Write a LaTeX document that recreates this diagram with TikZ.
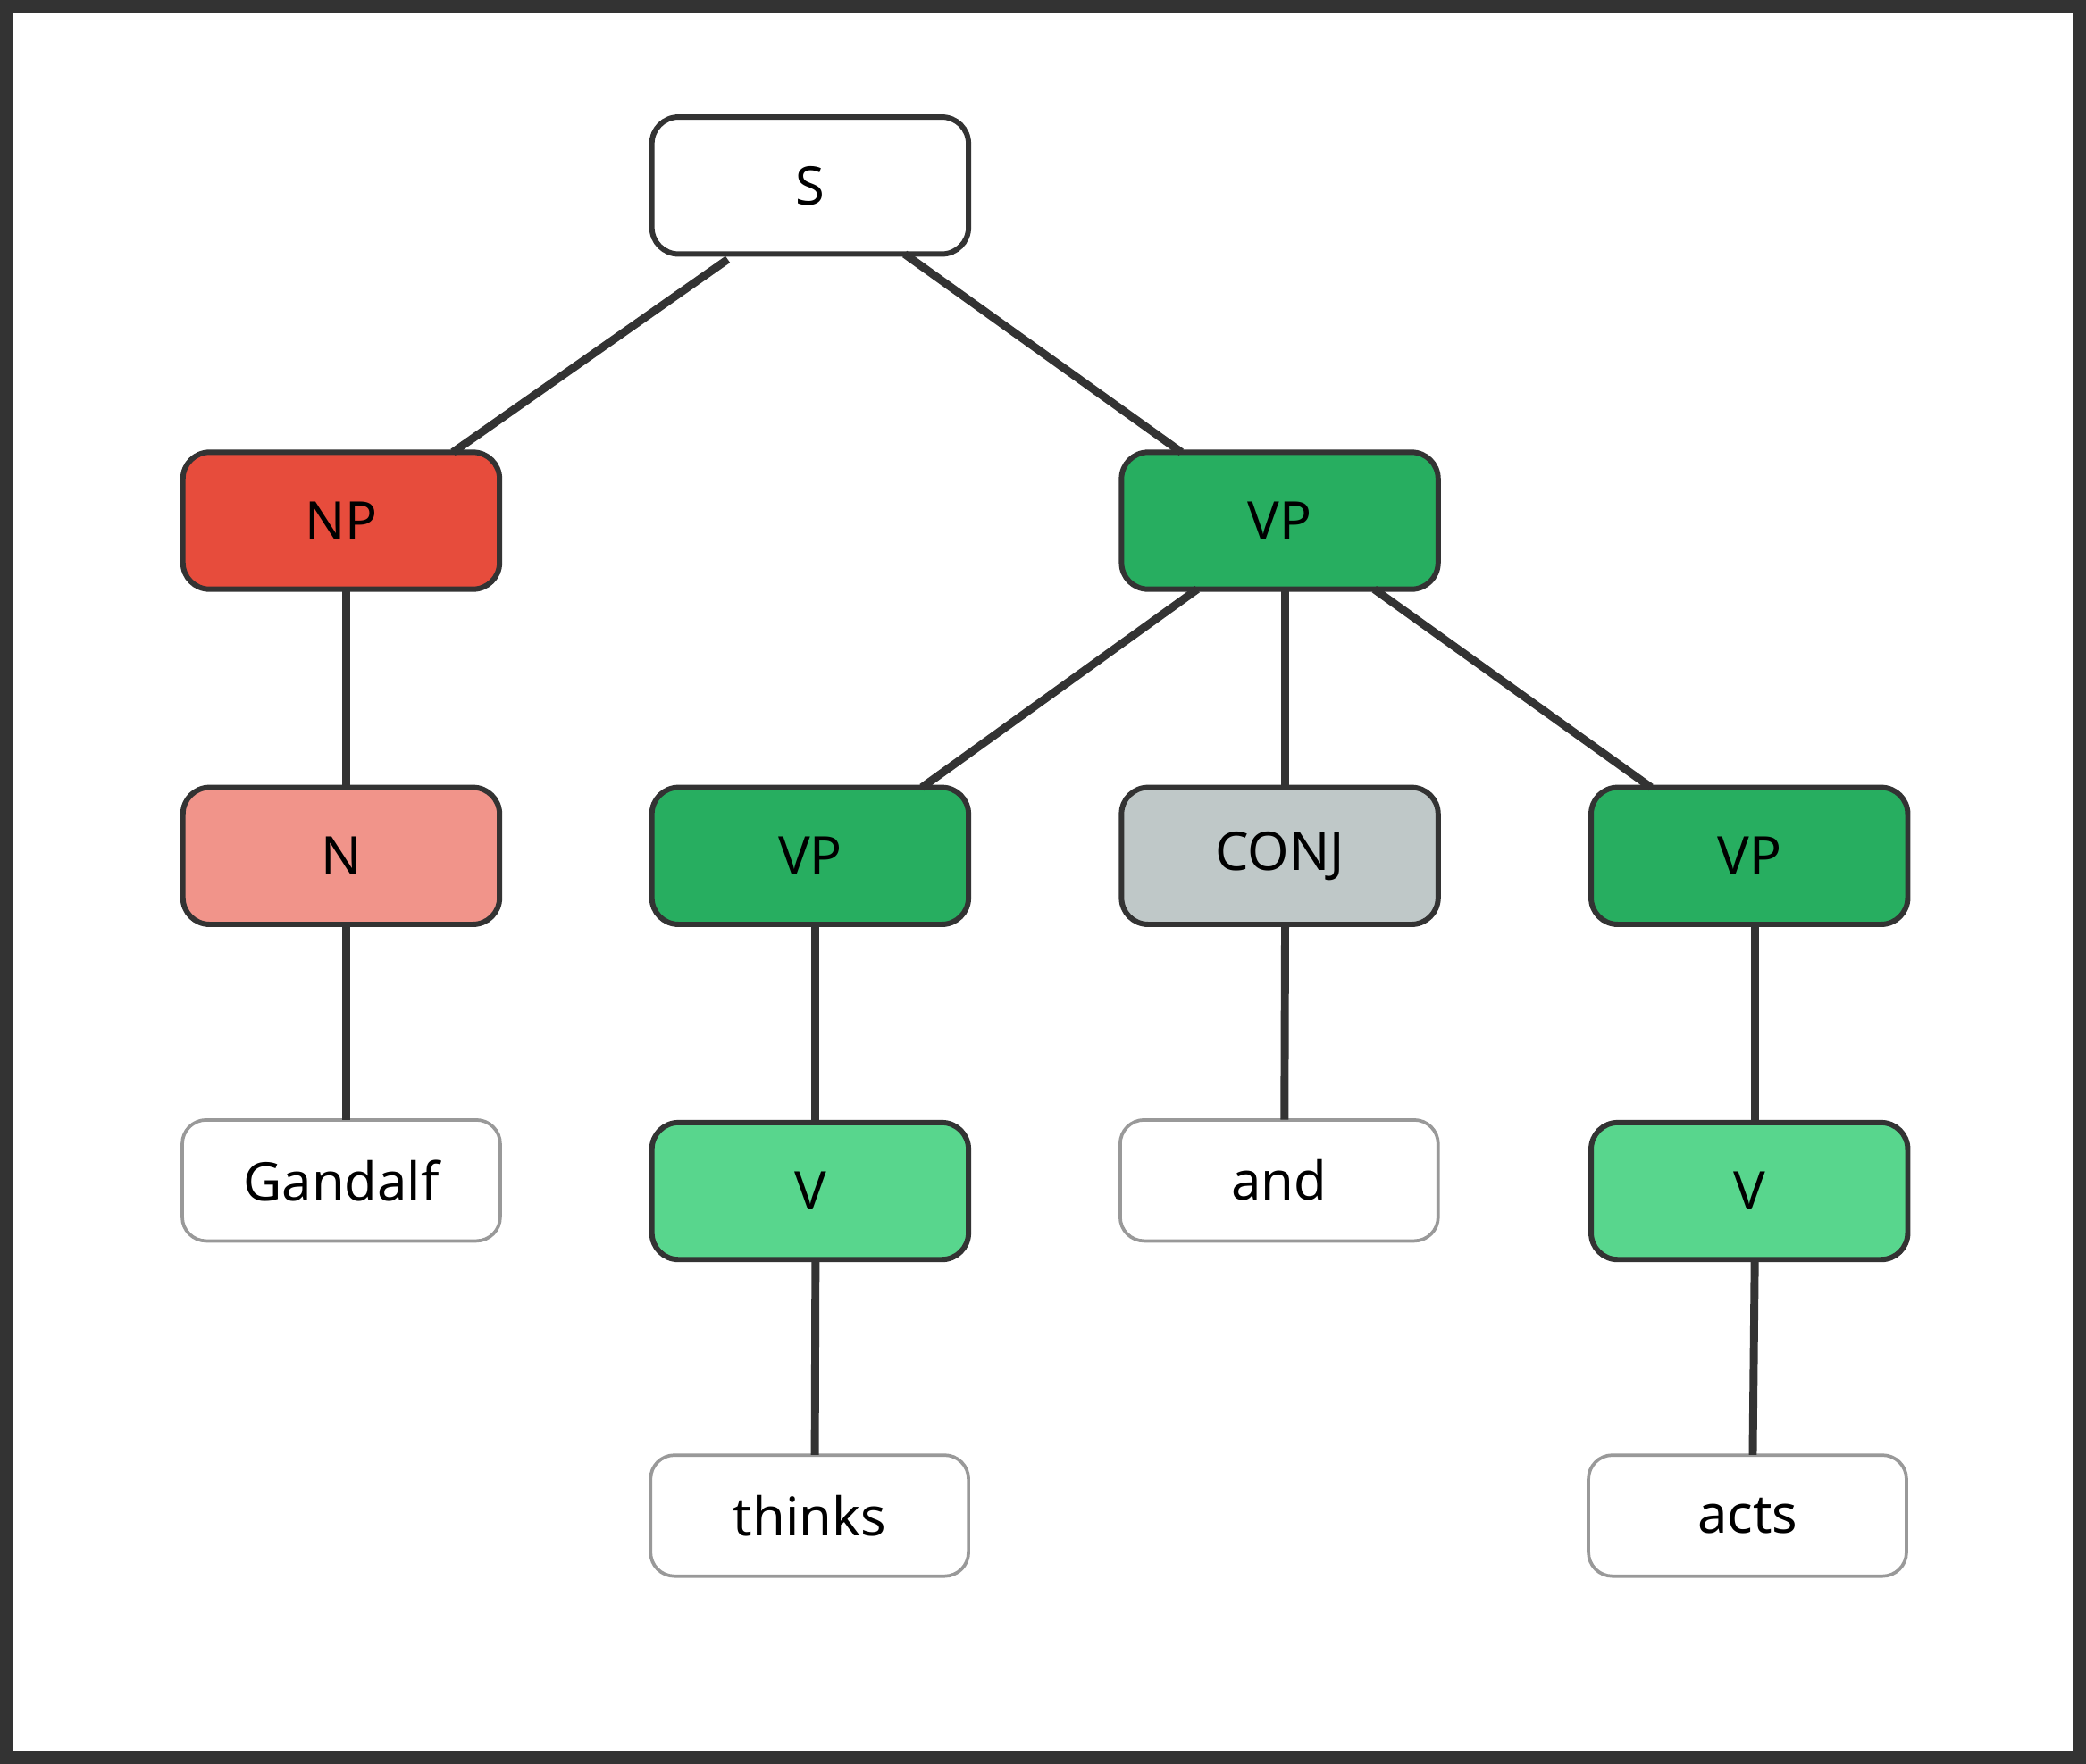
\documentclass[tikz,border=0pt]{standalone}
\usepackage{fontspec}
\setmainfont{Noto Sans}
\definecolor{dk}{HTML}{333333}
\definecolor{npc}{HTML}{E74C3C}
\definecolor{nc}{HTML}{F1948A}
\definecolor{vpc}{HTML}{27AE60}
\definecolor{vc}{HTML}{58D68D}
\definecolor{cjc}{HTML}{BFC8C8}
\definecolor{lf}{HTML}{999999}
\begin{document}
\begin{tikzpicture}[x=1pt,y=-1pt,
  cat/.style={draw=dk,line width=4pt,rounded corners=20pt,minimum width=238pt,minimum height=103pt,font=\fontsize{40}{48}\selectfont\bfseries,inner sep=0pt},
  leaf/.style={draw=lf,line width=2.5pt,rounded corners=18pt,fill=white,minimum width=239pt,minimum height=91pt,font=\fontsize{40}{48}\selectfont,inner sep=0pt},
  edge/.style={draw=dk,line width=6pt}]
\useasboundingbox (0,0) rectangle (1568,1326);
\fill[white] (0,0) rectangle (1568,1326);
\draw[dk,line width=10pt] (5,5) rectangle (1563,1321);
\node[cat,fill=white] (s) at (609,139.5) {S};
\node[cat,fill=npc] (np) at (256.5,391.5) {NP};
\node[cat,fill=vpc] (vp) at (962,391.5) {VP};
\node[cat,fill=nc] (n) at (256.5,643.5) {N};
\node[cat,fill=vpc] (vp1) at (609,643.5) {VP};
\node[cat,fill=cjc] (conj) at (962,643.5) {CONJ};
\node[cat,fill=vpc] (vp2) at (1315,643.5) {VP};
\node[leaf] (gandalf) at (256.5,887.5) {Gandalf};
\node[cat,fill=vc] (v1) at (609,895.5) {V};
\node[leaf] (and) at (961.5,887.5) {and};
\node[cat,fill=vc] (v2) at (1315,895.5) {V};
\node[leaf] (thinks) at (608.5,1139.5) {thinks};
\node[leaf] (acts) at (1313.5,1139.5) {acts};
\draw[edge] (s.south west)++(59,2) -- ([xshift=84pt,yshift=-2pt]np.north);
\draw[edge] ([xshift=71pt,yshift=2pt]s.south) -- ([xshift=-74pt,yshift=-2pt]vp.north);
\draw[edge] ([xshift=4pt,yshift=2pt]np.south) -- ([xshift=4pt,yshift=-2pt]n.north);
\draw[edge] ([xshift=4pt,yshift=2pt]n.south) -- ([xshift=4pt,yshift=-1pt]gandalf.north);
\draw[edge] ([xshift=-62pt,yshift=2pt]vp.south) -- ([xshift=84pt,yshift=-2pt]vp1.north);
\draw[edge] ([xshift=4pt,yshift=2pt]vp.south) -- ([xshift=4pt,yshift=-2pt]conj.north);
\draw[edge] ([xshift=71pt,yshift=2pt]vp.south) -- ([xshift=-74pt,yshift=-2pt]vp2.north);
\draw[edge] ([xshift=4pt,yshift=2pt]vp1.south) -- ([xshift=4pt,yshift=-2pt]v1.north);
\draw[edge] ([xshift=4pt,yshift=2pt]v1.south) -- ([xshift=4pt,yshift=-1pt]thinks.north);
\draw[edge] ([xshift=4pt,yshift=2pt]conj.south) -- ([xshift=4pt,yshift=-1pt]and.north);
\draw[edge] ([xshift=4pt,yshift=2pt]vp2.south) -- ([xshift=4pt,yshift=-2pt]v2.north);
\draw[edge] ([xshift=4pt,yshift=2pt]v2.south) -- ([xshift=4pt,yshift=-1pt]acts.north);
\end{tikzpicture}
\end{document}
